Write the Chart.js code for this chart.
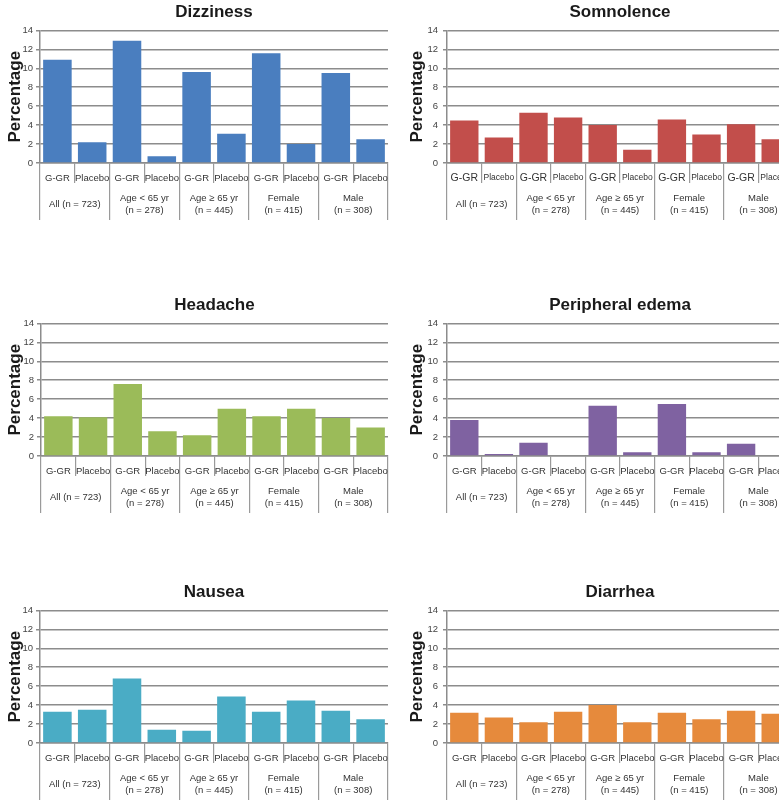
<!DOCTYPE html>
<html><head><meta charset="utf-8">
<script src="https://cdn.jsdelivr.net/npm/chart.js@4"></script>
<style>
html,body{margin:0;padding:0;background:#fff;overflow:hidden;width:779px;height:806px;}
.panel{position:absolute;overflow:hidden;}
canvas{display:block;}
</style></head><body>
<div class="panel" style="left:0;top:0;width:390px;height:240px"><canvas id="c0" width="390" height="230"></canvas></div>
<div class="panel" style="left:390px;top:0;width:389px;height:240px"><canvas id="c1" width="410" height="230"></canvas></div>
<div class="panel" style="left:0;top:293px;width:390px;height:240px"><canvas id="c2" width="390" height="230"></canvas></div>
<div class="panel" style="left:390px;top:293px;width:389px;height:240px"><canvas id="c3" width="410" height="230"></canvas></div>
<div class="panel" style="left:0;top:580px;width:390px;height:226px"><canvas id="c4" width="390" height="230"></canvas></div>
<div class="panel" style="left:390px;top:580px;width:389px;height:226px"><canvas id="c5" width="410" height="230"></canvas></div>
<script>
// ---- data ----
const subLabels = ['G-GR','Placebo','G-GR','Placebo','G-GR','Placebo','G-GR','Placebo','G-GR','Placebo'];
const groupLabels = ['All (n = 723)', ['Age < 65 yr','(n = 278)'], ['Age \u2265 65 yr','(n = 445)'], ['Female','(n = 415)'], ['Male','(n = 308)']];
const yTickValues = [0, 2, 4, 6, 8, 10, 12, 14];
const dizziness       = [10.9, 2.2, 12.9, 0.7, 9.6, 3.1, 11.6, 2.0, 9.5, 2.5];
const somnolence      = [4.5, 2.7, 5.3, 4.8, 4.0, 1.4, 4.6, 3.0, 4.1, 2.5];
const headache        = [4.2, 4.1, 7.6, 2.6, 2.2, 5.0, 4.2, 5.0, 4.0, 3.0];
const peripheralEdema = [3.8, 0.2, 1.4, 0.0, 5.3, 0.4, 5.5, 0.4, 1.3, 0.0];
const nausea          = [3.3, 3.5, 6.8, 1.4, 1.3, 4.9, 3.3, 4.5, 3.4, 2.5];
const diarrhea        = [3.2, 2.7, 2.2, 3.3, 4.0, 2.2, 3.2, 2.5, 3.4, 3.1];

Chart.defaults.font.family = '"Liberation Sans", Arial, Helvetica, sans-serif';
const GRID = '#8c8c8c';
const SEP = '#9a9a9a';

const LEFT = { yWidth: 40, padRight: 2, yTitlePad: 5, yTickPad: 3 };
const RIGHT = { yWidth: 57, padRight: 7, yTitlePad: 17, yTickPad: 5 };

function makeChart(canvasId, titleText, values, color, side, subFont) {
  return new Chart(document.getElementById(canvasId), {
    type: 'bar',
    data: { labels: subLabels, datasets: [{ data: values, backgroundColor: color, borderWidth: 0, barPercentage: 0.82, categoryPercentage: 1 }] },
    options: {
      responsive: false, animation: false, events: [],
      layout: { padding: { left: 0, right: side.padRight, top: 0, bottom: 7 } },
      plugins: {
        legend: { display: false }, tooltip: { enabled: false },
        title: { display: true, text: titleText, fullSize: false, color: '#1a1a1a',
                 font: { size: 17, weight: 'bold' }, padding: { top: 2, bottom: 8 } }
      },
      scales: {
        y: {
          min: 0, max: 14,
          afterBuildTicks: s => { s.ticks = yTickValues.map(v => ({ value: v })); },
          ticks: { padding: side.yTickPad, color: '#444', font: { size: 9.5 } },
          grid: { color: GRID, lineWidth: 1.5, tickLength: 4 },
          border: { display: true, color: GRID, width: 1.5 },
          title: { display: true, text: 'Percentage', color: '#1a1a1a', font: { size: 17, weight: 'bold' },
                   padding: { top: side.yTitlePad, bottom: 0 } },
          afterFit: s => { s.width = side.yWidth; }
        },
        x: {
          type: 'category', position: 'bottom', offset: true,
          grid: { offset: true, drawOnChartArea: false, tickLength: 20, color: SEP, lineWidth: 1.2 },
          border: { display: true, color: GRID, width: 1.5 },
          ticks: { autoSkip: false, maxRotation: 0, minRotation: 0, padding: -11, color: '#333',
                   font: subFont || { size: 9.5, lineHeight: 1.25 } },
          afterFit: s => { s.height = 20; }
        },
        x2: {
          type: 'category', labels: groupLabels, position: 'bottom', offset: true,
          grid: { offset: true, drawOnChartArea: false, tickLength: 37, color: SEP, lineWidth: 1.2 },
          border: { display: false },
          ticks: { autoSkip: false, maxRotation: 0, minRotation: 0, padding: -22, crossAlign: 'center', color: '#333',
                   font: { size: 9.5, lineHeight: 1.25 } },
          afterFit: s => { s.height = 40; }
        }
      }
    }
  });
}

makeChart('c0', 'Dizziness', dizziness, '#4a7ebf', LEFT);
makeChart('c1', 'Somnolence', somnolence, '#c24e4b', RIGHT, c => ({ size: c.index % 2 ? 8.5 : 10.5, lineHeight: 1.25 }));
makeChart('c2', 'Headache', headache, '#9bbb59', Object.assign({}, LEFT, { yWidth: 41 }));
makeChart('c3', 'Peripheral edema', peripheralEdema, '#7f62a1', RIGHT);
makeChart('c4', 'Nausea', nausea, '#4aacc5', LEFT);
makeChart('c5', 'Diarrhea', diarrhea, '#e68a3c', RIGHT);
</script>
</body></html>
